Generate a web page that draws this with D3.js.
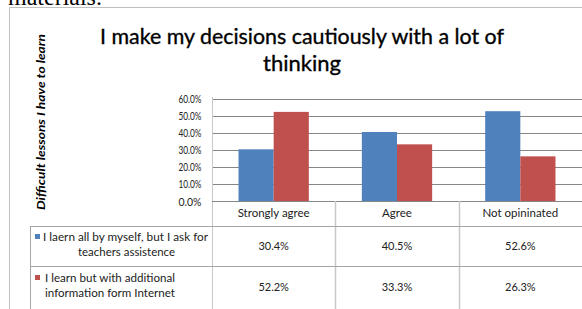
<!DOCTYPE html>
<html>
<head>
<meta charset="utf-8">
<script src="https://cdn.jsdelivr.net/npm/d3@7"></script>
<style>
  body { margin: 0; background: #fff; }
  svg { display: block; font-family: Lato, "Liberation Sans", sans-serif; }
</style>
</head>
<body>
<div id="chart"></div>
<script>
// chart data
const categories = ["Strongly agree", "Agree", "Not opininated"];
const seriesNames = [
  ["I laern all by myself, but I ask for", "teachers assistence"],
  ["I learn but with additional", "information form Internet"]
];
const seriesA = [30.4, 40.5, 52.6];
const seriesB = [52.2, 33.3, 26.3];
const yTicks = [0, 10, 20, 30, 40, 50, 60];
const colors = ["#4f81bd", "#c0504d"];

const width = 582, height = 309;
const svg = d3.select("#chart").append("svg")
  .attr("width", width).attr("height", height);

// leftover text of the page above the figure
svg.append("text")
  .attr("x", 8).attr("y", 5)
  .style("font-family", "'Liberation Serif', serif")
  .style("font-size", "24px")
  .text("materials.");

// frame
svg.append("path")
  .attr("d", `M9.5,${height} V7.5 H${width}`)
  .attr("fill", "none").attr("stroke", "#c0c0c0");

// title
const title = svg.append("text").attr("text-anchor", "middle")
  .style("font-size", "22px").attr("fill", "#000")
  .attr("stroke", "#000").attr("stroke-width", 0.35);
title.append("tspan").attr("x", 302).attr("y", 44)
  .attr("textLength", 404).attr("lengthAdjust", "spacingAndGlyphs")
  .text("I make my decisions cautiously with a lot of");
title.append("tspan").attr("x", 302).attr("y", 71)
  .attr("textLength", 78).attr("lengthAdjust", "spacingAndGlyphs")
  .text("thinking");

// y axis title
svg.append("text")
  .attr("transform", "translate(45,122) rotate(-90)")
  .attr("text-anchor", "middle")
  .style("font-size", "11px").style("font-weight", "bold").style("font-style", "italic")
  .attr("textLength", 176).attr("lengthAdjust", "spacingAndGlyphs")
  .text("Difficult lessons I have to learn");

// scales
const x = d3.scaleBand().domain(categories).range([212, 582]);
const xs = d3.scaleBand().domain([0, 1])
  .range([x.bandwidth() * 0.215, x.bandwidth() * 0.785]);
const y = d3.scaleLinear().domain([0, 60]).range([201.5, 98.5]);

// gridlines
svg.append("g").selectAll("line")
  .data(yTicks.filter(d => d > 0))
  .join("line")
  .attr("x1", 212).attr("x2", 582)
  .attr("y1", d => Math.round(y(d)) + 0.5).attr("y2", d => Math.round(y(d)) + 0.5)
  .attr("stroke", "#868686");

// y axis
const yAxis = svg.append("g").attr("transform", "translate(212.5,0)")
  .call(d3.axisLeft(y).tickValues(yTicks).tickSize(0).tickPadding(11)
    .tickFormat(d => d.toFixed(1) + "%"));
yAxis.select(".domain").remove();
yAxis.selectAll("text").style("font-size", "11px").style("font-family", "Lato, sans-serif")
  .attr("fill", "#222")
  .attr("textLength", 23).attr("lengthAdjust", "spacingAndGlyphs");

// bars
const series = [seriesA, seriesB];
svg.append("g").selectAll("g")
  .data(series)
  .join("g")
  .attr("fill", (d, i) => colors[i])
  .selectAll("rect")
  .data((d, i) => d.map((v, j) => ({ v, c: categories[j], s: i })))
  .join("rect")
  .attr("x", d => x(d.c) + xs(d.s))
  .attr("width", xs.bandwidth())
  .attr("y", d => y(d.v))
  .attr("height", d => y(0) - y(d.v));

// table lines
const grid = svg.append("g").attr("stroke", "#a6a6a6").attr("fill", "none");
grid.append("line").attr("x1", 212.5).attr("x2", 212.5).attr("y1", 97).attr("y2", height)
  .attr("stroke", "#c8c8c8");
grid.append("line").attr("x1", 212).attr("x2", 582).attr("y1", 201.5).attr("y2", 201.5)
  .attr("stroke", "#868686");
grid.selectAll(".sep").data(categories.slice(1)).join("line")
  .attr("x1", d => Math.round(x(d)) + 0.5).attr("x2", d => Math.round(x(d)) + 0.5)
  .attr("y1", 201).attr("y2", height).attr("stroke", "#c8c8c8").attr("stroke-width", 1.5);
[226.5, 266.5].forEach(yy =>
  grid.append("line").attr("x1", 30.5).attr("x2", 582).attr("y1", yy).attr("y2", yy));
grid.append("line").attr("x1", 30.5).attr("x2", 30.5).attr("y1", 226).attr("y2", height);

// category labels
svg.append("g").selectAll("text").data(categories).join("text")
  .attr("x", d => x(d) + x.bandwidth() / 2).attr("y", 217)
  .attr("text-anchor", "middle").style("font-size", "11.5px").attr("fill", "#222")
  .text(d => d);

// legend cells
const rowY = [246, 287];
const firstX = [43, 45];
const firstW = [165, 130];
const secondX = [78, 45];
const secondW = [97, 130];
seriesNames.forEach((lines, i) => {
  svg.append("rect").attr("x", 35).attr("y", rowY[i] - 12).attr("width", 5).attr("height", 5)
    .attr("fill", colors[i]);
  svg.append("text").attr("x", firstX[i]).attr("y", rowY[i] - 5)
    .attr("textLength", firstW[i]).attr("lengthAdjust", "spacingAndGlyphs")
    .style("font-size", "11.5px").attr("fill", "#222").text(lines[0]);
  svg.append("text").attr("x", secondX[i]).attr("y", rowY[i] + 10)
    .attr("textLength", secondW[i]).attr("lengthAdjust", "spacingAndGlyphs")
    .style("font-size", "11.5px").attr("fill", "#222").text(lines[1]);
  svg.append("g").selectAll("text").data(series[i]).join("text")
    .attr("x", (d, j) => x(categories[j]) + x.bandwidth() / 2).attr("y", rowY[i] + 4)
    .attr("text-anchor", "middle").style("font-size", "11px").attr("fill", "#222")
    .text(d => d.toFixed(1) + "%");
});
</script>
</body>
</html>
